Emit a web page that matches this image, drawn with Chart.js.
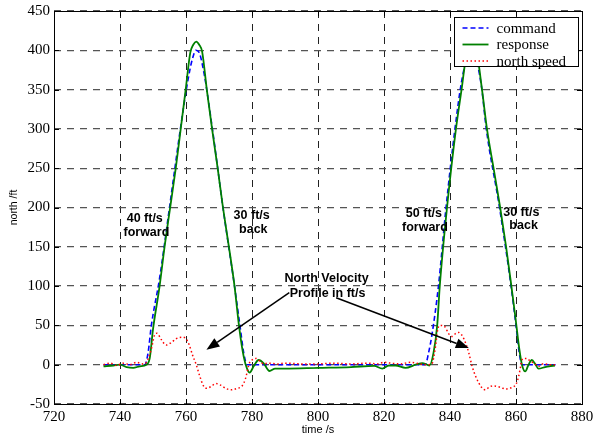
<!DOCTYPE html>
<html>
<head>
<meta charset="utf-8">
<script src="https://cdn.jsdelivr.net/npm/chart.js@4.4.0/dist/chart.umd.min.js"></script>
<style>
  body { margin: 0; background: #fff; }
  #wrap { width: 593px; height: 440px; }
</style>
</head>
<body>
<div id="wrap"><canvas id="myChart" width="593" height="440"></canvas></div>
<script>
// series, time in s, north in ft
const cmdTime = [735, 740, 745, 747.5, 748.5, 749.5, 752, 755, 758.3, 760.5, 762, 763, 764, 765.5, 768, 771.2, 774.7, 776.5, 777.5, 778.5, 785, 800, 815, 832.5, 833.5, 834.6, 836.5, 838.8, 841.5, 843.5, 845.5, 846.5, 847.5, 849.5, 851, 855, 858.5, 860, 861, 861.8, 866, 872];
const cmdNorth = [0, 0, 0, 0, 15, 50, 110, 200, 300, 360, 390, 400, 397, 370, 300, 200, 100, 45, 15, 0, 0, 0, 0, 0, 15, 40, 100, 200, 300, 360, 395, 400, 395, 355, 300, 200, 100, 50, 15, 0, 0, 0];

const respTime = [735, 738, 740, 742, 744, 746, 748, 749, 750, 752, 753.5, 755.2, 756.9, 758.4, 759.9, 761.3, 762.2, 763.1, 764, 764.9, 766.3, 767.9, 769.6, 771.2, 773, 774.7, 776.2, 777.5, 778.5, 779.3, 780.5, 782, 783.5, 785.3, 787, 790, 800, 810, 817, 819.5, 821.5, 823.5, 826.5, 829.6, 831.6, 833.8, 835, 836.1, 836.9, 839.1, 841.8, 843.5, 845, 846.5, 848, 849.7, 851.2, 853.2, 855.2, 857, 858.6, 859.8, 861, 861.8, 862.8, 863.8, 864.8, 865.8, 866.8, 868.8, 870, 871.8];
const respNorth = [-2, -1, 0, -3, -4, -2, 0, 8, 45, 100, 150, 200, 250, 300, 350, 397, 407, 411, 407, 398, 350, 300, 250, 200, 150, 100, 45, 10, -5, -10, -2, 6, 2, -8, -5, -5, -4, -3, -1.5, -5, -1, -1, -4, 0, 2, -1, 15, 49, 100, 200, 300, 350, 395, 410, 400, 350, 300, 250, 200, 150, 100, 61, 20, 0, -8.5, 0, 6, 1, -5, -3, -2, -1];

const speedTime = [735, 737, 739, 741, 743, 745, 747, 748, 749.5, 750.5, 751.2, 752.5, 754, 755.5, 757, 759, 760, 761, 762, 763.1, 764.2, 765.3, 766.2, 767.5, 769, 770.5, 772, 773.7, 775.5, 777, 778, 779.2, 780, 781.2, 782.5, 783.5, 785, 788, 790, 795, 800, 805, 810, 815, 818, 820, 822, 825, 828, 831, 833, 834.5, 835.5, 836.3, 837.1, 838.5, 839.5, 840.6, 841.8, 842.6, 843.5, 844.2, 845.2, 845.7, 846.7, 847.8, 848.7, 849.8, 850.7, 852, 853.2, 854.7, 856, 856.8, 858, 859.3, 860, 860.8, 861.5, 861.8, 862.5, 863.3, 864.2, 865, 866, 867, 868, 869, 870, 871.8];
const speedNorth = [0, 2, -1, 2, 0, 3, 1, 3, 20, 38, 40, 32, 25, 28, 33, 35, 33, 25, 12, 0, -15, -27, -30, -28, -24, -26, -30, -32, -30, -27, -18, 2, 6, 8, 4, 1, 2, 1, 2, 1, 1, 2, 1, 2, 1, 3, 2, 1, 3, 1, 0, 1, 20, 45, 50, 48, 40, 36, 40, 41, 38, 33, 22, 15, -2, -15, -23, -30, -32, -28, -27, -28, -30, -31, -30, -28, -25, -15, 0, 6, 8, 8, 5, 3, 0, -2, 1, 1, 0, 0];

const xTicks = [720, 740, 760, 780, 800, 820, 840, 860, 880];
const yTicks = [-50, 0, 50, 100, 150, 200, 250, 300, 350, 400, 450];

// notes on the plot, anchored in data units
const notes = [
  { text: "40 ft/s", t: 747.5, v: 186 },
  { text: "forward", t: 748, v: 168 },
  { text: "30 ft/s", t: 779.9, v: 190 },
  { text: "back", t: 780.4, v: 172 },
  { text: "50 ft/s", t: 832.1, v: 192 },
  { text: "forward", t: 832.4, v: 175 },
  { text: "30 ft/s", t: 861.6, v: 194 },
  { text: "back", t: 862.3, v: 177 },
  { text: "North Velocity", t: 802.6, v: 110 },
  { text: "Profile in ft/s", t: 802.9, v: 91 },
];
const arrows = [
  { t0: 791.3, v0: 91.6, t1: 766.2, v1: 19.1 },
  { t0: 805.5, v0: 85.2, t1: 845.7, v1: 21.2 },
];

const toPoints = (ts, vs) => ts.map((t, i) => ({ x: t, y: vs[i] }));

// matlab style box with inward ticks, notes, arrows and legend
const extras = {
  id: "extras",
  afterDraw(chart) {
    const c = chart.ctx;
    const a = chart.chartArea;
    const xs = chart.scales.x, ys = chart.scales.y;
    c.save();

    // notes
    c.fillStyle = "#000";
    c.font = "bold 12.5px 'Liberation Sans', Arial, sans-serif";
    c.textAlign = "center";
    c.textBaseline = "middle";
    notes.forEach(n => c.fillText(n.text, xs.getPixelForValue(n.t), ys.getPixelForValue(n.v)));

    // arrows
    arrows.forEach(ar => {
      const x0 = xs.getPixelForValue(ar.t0), y0 = ys.getPixelForValue(ar.v0);
      const x1 = xs.getPixelForValue(ar.t1), y1 = ys.getPixelForValue(ar.v1);
      const ang = Math.atan2(y1 - y0, x1 - x0);
      const hl = 13, hw = 5;
      const bx = x1 - hl * Math.cos(ang), by = y1 - hl * Math.sin(ang);
      c.strokeStyle = "#000";
      c.lineWidth = 1.5;
      c.beginPath();
      c.moveTo(x0, y0);
      c.lineTo(bx, by);
      c.stroke();
      c.beginPath();
      c.moveTo(x1, y1);
      c.lineTo(bx + hw * Math.sin(ang), by - hw * Math.cos(ang));
      c.lineTo(bx - hw * Math.sin(ang), by + hw * Math.cos(ang));
      c.closePath();
      c.fill();
    });

    // box + inward ticks
    c.strokeStyle = "#000";
    c.lineWidth = 1;
    c.strokeRect(Math.round(a.left) + 0.5, Math.round(a.top) + 0.5, Math.round(a.right - a.left), Math.round(a.bottom - a.top));
    c.beginPath();
    xTicks.forEach(t => {
      const px = Math.round(xs.getPixelForValue(t)) + 0.5;
      c.moveTo(px, a.bottom); c.lineTo(px, a.bottom - 5);
      c.moveTo(px, a.top); c.lineTo(px, a.top + 5);
    });
    yTicks.forEach(v => {
      const py = Math.round(ys.getPixelForValue(v)) + 0.5;
      c.moveTo(a.left, py); c.lineTo(a.left + 5, py);
      c.moveTo(a.right, py); c.lineTo(a.right - 5, py);
    });
    c.stroke();

    // legend
    const lw = 124, lh = 49;
    const lx = Math.round(a.right - 4 - lw) + 0.5, ly = Math.round(a.top + 6) + 0.5;
    c.fillStyle = "#fff";
    c.fillRect(lx, ly, lw, lh);
    c.strokeStyle = "#000";
    c.lineWidth = 1;
    c.strokeRect(lx, ly, lw, lh);
    c.font = "15px 'Liberation Serif', 'Times New Roman', serif";
    c.textAlign = "left";
    c.textBaseline = "middle";
    chart.data.datasets.forEach((ds, i) => {
      const ry = ly + 10.5 + i * 16.5;
      c.save();
      c.strokeStyle = ds.borderColor;
      c.lineWidth = ds.borderWidth;
      c.setLineDash(ds.borderDash || []);
      c.beginPath();
      c.moveTo(lx + 8, ry);
      c.lineTo(lx + 34, ry);
      c.stroke();
      c.restore();
      c.fillStyle = "#000";
      c.fillText(ds.label, lx + 42, ry + 1);
    });
    c.restore();
  }
};

const ctx = document.getElementById("myChart").getContext("2d");
const myChart = new Chart(ctx, {
  type: "line",
  data: {
    datasets: [
      {
        label: "command",
        data: toPoints(cmdTime, cmdNorth),
        borderColor: "#0000ff",
        borderWidth: 1.6,
        borderDash: [5, 3],
        pointRadius: 0,
        cubicInterpolationMode: "monotone",
        order: 3,
      },
      {
        label: "response",
        data: toPoints(respTime, respNorth),
        borderColor: "#008000",
        borderWidth: 1.8,
        pointRadius: 0,
        cubicInterpolationMode: "monotone",
        order: 2,
      },
      {
        label: "north speed",
        data: toPoints(speedTime, speedNorth),
        borderColor: "#ff0000",
        borderWidth: 1.5,
        borderDash: [1.5, 2.5],
        pointRadius: 0,
        cubicInterpolationMode: "monotone",
        order: 1,
      },
    ],
  },
  options: {
    responsive: false,
    animation: false,
    layout: { padding: { top: 11, right: 11, left: 0, bottom: 0 } },
    plugins: {
      legend: { display: false },
      tooltip: { enabled: false },
    },
    scales: {
      x: {
        type: "linear",
        min: 720,
        max: 880,
        afterBuildTicks: (s) => { s.ticks = xTicks.map(v => ({ value: v })); },
        afterFit: (s) => { s.height = 36; s.paddingLeft = 0; s.paddingRight = 0; },
        ticks: {
          color: "#000",
          padding: 4,
          maxRotation: 0,
          font: { family: "'Liberation Serif', 'Times New Roman', serif", size: 15 },
        },
        grid: { color: "#222", lineWidth: 1, drawTicks: false },
        border: { display: false, dash: [7, 6] },
        title: {
          display: true,
          text: "time /s",
          color: "#000",
          padding: { top: 0, bottom: 3 },
          font: { family: "'Liberation Sans', Arial, sans-serif", size: 11 },
        },
      },
      y: {
        min: -50,
        max: 450,
        afterBuildTicks: (s) => { s.ticks = yTicks.map(v => ({ value: v })); },
        afterFit: (s) => { s.width = 54; s.paddingTop = 0; s.paddingBottom = 0; },
        ticks: {
          color: "#000",
          padding: 4,
          callback: (v) => String(v),
          font: { family: "'Liberation Serif', 'Times New Roman', serif", size: 15 },
        },
        grid: { color: "#555", lineWidth: 1.2, drawTicks: false },
        border: { display: false, dash: [7, 6] },
        title: {
          display: true,
          text: "north /ft",
          color: "#000",
          padding: { top: 8, bottom: 0 },
          font: { family: "'Liberation Sans', Arial, sans-serif", size: 10.5 },
        },
      },
    },
  },
  plugins: [extras],
});
</script>
</body>
</html>
